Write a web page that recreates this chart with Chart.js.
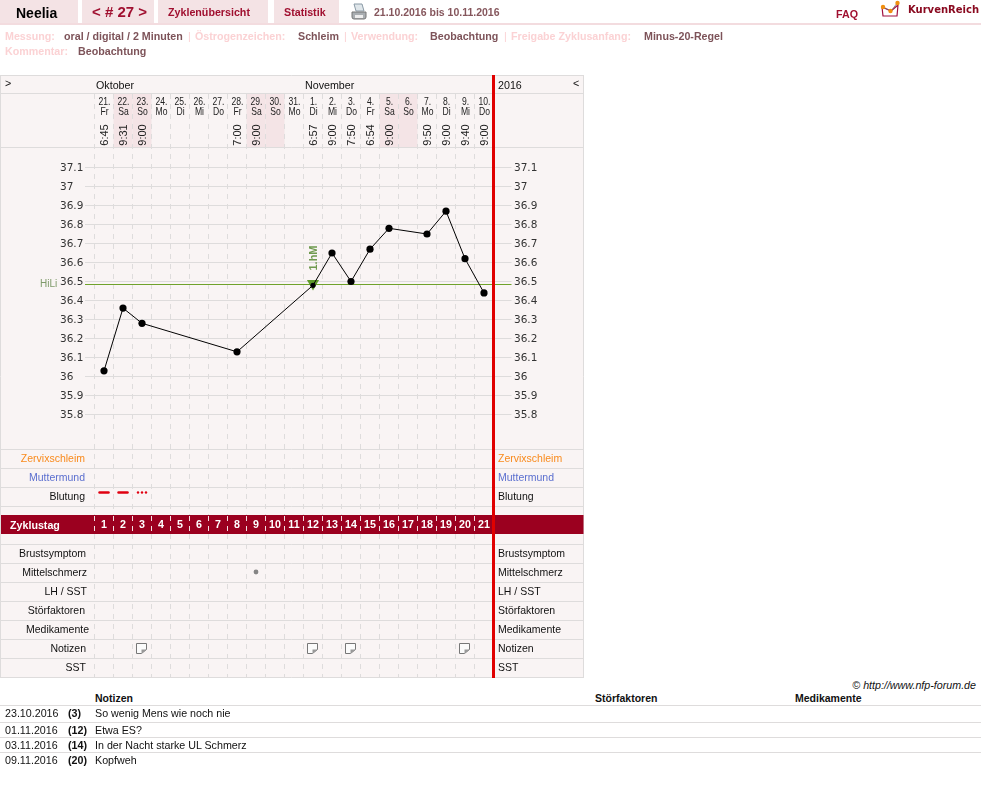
<!DOCTYPE html>
<html lang="de">
<head>
<meta charset="utf-8">
<title>Neelia - Zyklus 27</title>
<script src="https://cdn.jsdelivr.net/npm/chart.js@4"></script>
<style>
  html, body { margin: 0; padding: 0; background: #fff; }
  body { position: relative; width: 981px; height: 797px; overflow: hidden; font-family: "Liberation Sans", Arial, sans-serif; font-size: 10.7px; color: #111; }
  #chart { position: absolute; left: 0; top: 0; }
  .t { position: absolute; white-space: nowrap; line-height: 14px; }
  .r { text-align: right; }
  .b { font-weight: bold; }
  .tab { position: absolute; top: 0; height: 23px; background: #f4e3e5; }
  .hr { position: absolute; left: 0; width: 981px; height: 1px; background: #dedcdc; }
  .dim { color: #fbd2d4; font-weight: bold; }
  .val { color: #7d5359; font-weight: bold; }
  .small { font-size: 10.5px; }
</style>
</head>
<body>
<canvas id="chart" width="584" height="680"></canvas>

<!-- header -->
<div class="tab" style="left:0;width:78px"></div>
<div class="tab" style="left:82px;width:72px"></div>
<div class="tab" style="left:158px;width:110px"></div>
<div class="tab" style="left:274px;width:65px"></div>
<div style="position:absolute;left:0;top:23px;width:981px;height:2px;background:#f3dcdf"></div>
<div class="t b" style="left:16px;top:6px;font-size:14px;color:#000">Neelia</div>
<div class="t b" style="left:92px;top:5px;font-size:15px;color:#a01030">&lt; # 27 &gt;</div>
<div class="t b" style="left:168px;top:5px;color:#a01030">Zyklenübersicht</div>
<div class="t b" style="left:284px;top:5px;color:#a01030">Statistik</div>
<svg style="position:absolute;left:351px;top:3px" width="16" height="18" viewBox="0 0 16 18">
  <path d="M3 1h8l2 7H5z" fill="#dfe6ea" stroke="#8a9aa6"/>
  <path d="M1 9h14v5a2 2 0 0 1-2 2H3a2 2 0 0 1-2-2z" fill="#a9aeb2" stroke="#777"/>
  <rect x="4" y="12" width="8" height="3" fill="#eee"/>
</svg>
<div class="t b small" style="left:374px;top:5px;color:#85565c">21.10.2016 bis 10.11.2016</div>
<div class="t b" style="left:836px;top:7px;color:#a01030">FAQ</div>
<svg style="position:absolute;left:880px;top:0" width="24" height="20" viewBox="0 0 24 20">
  <path d="M2 7l1 9h14l1-11-7 6z" fill="none" stroke="#a01040" stroke-width="1.2"/>
  <path d="M3 7l8 4 7-9" fill="none" stroke="#777" stroke-width="0.8"/>
  <circle cx="3" cy="7" r="2.2" fill="#f09010"/><circle cx="10.5" cy="11" r="2.2" fill="#f09010"/><circle cx="17.5" cy="3" r="2.2" fill="#f09010"/>
</svg>
<div class="t b" style="left:908px;top:3px;font-family:'DejaVu Sans';font-size:10px;color:#8a0a20">KurvenReich</div>

<!-- settings -->
<div class="t dim" style="left:5px;top:29px">Messung:</div>
<div class="t val" style="left:64px;top:29px">oral / digital / 2 Minuten</div>
<div class="t dim" style="left:188px;top:29px;font-weight:normal">|</div>
<div class="t dim" style="left:195px;top:29px">Östrogenzeichen:</div>
<div class="t val" style="left:298px;top:29px">Schleim</div>
<div class="t dim" style="left:344px;top:29px;font-weight:normal">|</div>
<div class="t dim" style="left:351px;top:29px">Verwendung:</div>
<div class="t val" style="left:430px;top:29px">Beobachtung</div>
<div class="t dim" style="left:504px;top:29px;font-weight:normal">|</div>
<div class="t dim" style="left:511px;top:29px">Freigabe Zyklusanfang:</div>
<div class="t val" style="left:644px;top:29px">Minus-20-Regel</div>
<div class="t dim" style="left:5px;top:44px">Kommentar:</div>
<div class="t val" style="left:78px;top:44px">Beobachtung</div>

<!-- chart table text -->
<div class="t" style="left:5px;top:76px">&gt;</div>
<div class="t" style="left:96px;top:78px">Oktober</div>
<div class="t" style="left:305px;top:78px">November</div>
<div class="t" style="left:498px;top:78px">2016</div>
<div class="t" style="left:573px;top:76px">&lt;</div>
<div class="t" style="left:40px;top:277px;font-size:10px;color:#7f9a6a">HiLi</div>
<div id="rowLabels"></div>

<!-- notes -->
<div class="t" style="right:5px;top:678px;font-style:italic">© http://www.nfp-forum.de</div>
<div class="t b small" style="left:95px;top:691px">Notizen</div>
<div class="t b small" style="left:595px;top:691px">Störfaktoren</div>
<div class="t b small" style="left:795px;top:691px">Medikamente</div>
<div class="hr" style="top:705px"></div>
<div class="hr" style="top:722px"></div>
<div class="hr" style="top:737px"></div>
<div class="hr" style="top:752px"></div>
<div id="notes"></div>

<script>
// ================= DATA =================
const dayNumbers = ["21.", "22.", "23.", "24.", "25.", "26.", "27.", "28.", "29.", "30.", "31.", "1.", "2.", "3.", "4.", "5.", "6.", "7.", "8.", "9.", "10."];
const weekdays = ["Fr", "Sa", "So", "Mo", "Di", "Mi", "Do", "Fr", "Sa", "So", "Mo", "Di", "Mi", "Do", "Fr", "Sa", "So", "Mo", "Di", "Mi", "Do"];
const times = ["6:45", "9:31", "9:00", "", "", "", "", "7:00", "9:00", "", "", "6:57", "9:00", "7:50", "6:54", "9:00", "", "9:50", "9:00", "9:40", "9:00"];
const cycleDays = ["1", "2", "3", "4", "5", "6", "7", "8", "9", "10", "11", "12", "13", "14", "15", "16", "17", "18", "19", "20", "21"];
const temps = [36.03, 36.36, 36.28, null, null, null, null, 36.13, null, null, null, 36.48, 36.65, 36.50, 36.67, 36.78, null, 36.75, 36.87, 36.62, 36.44];
const firstHigh = [null, null, null, null, null, null, null, null, null, null, null, 36.49, null, null, null, null, null, null, null, null, null];
const tempTicks = [35.8, 35.9, 36, 36.1, 36.2, 36.3, 36.4, 36.5, 36.6, 36.7, 36.8, 36.9, 37, 37.1];
const hiLi = 36.484;
const bleeding = [2, 2, 1];
const painDays = ["9"];
const noteDays = ["3", "12", "14", "20"];

const rowNames = ["Zervixschleim", "Muttermund", "Blutung", "Brustsymptom", "Mittelschmerz", "LH / SST", "Störfaktoren", "Medikamente", "Notizen", "SST"];
const noteDates = ["23.10.2016", "01.11.2016", "03.11.2016", "09.11.2016"];
const noteCycle = ["(3)", "(12)", "(14)", "(20)"];
const noteTexts = ["So wenig Mens wie noch nie", "Etwa ES?", "In der Nacht starke UL Schmerz", "Kopfweh"];

// ================= LAYOUT =================
const tableRight = 583.5;
const rowLines = [75.5, 93.5, 147.5, 449.5, 468.5, 487.5, 506.5, 544.5, 563.5, 582.5, 601.5, 620.5, 639.5, 658.5, 677.5];
const labelCentres = [458, 477, 496, 553, 572, 591, 610, 629, 648, 667];
const labelRightEdge = [85, 85, 85, 86, 87, 87, 85, 89, 86, 86];
const labelColors = { "Zervixschleim": "#f98a1c", "Muttermund": "#5b6fcf" };

const rowBox = document.getElementById("rowLabels");
rowNames.forEach((name, i) => {
  const color = labelColors[name] || "#111";
  rowBox.innerHTML +=
    `<div class="t r small" style="right:${981 - labelRightEdge[i]}px;top:${labelCentres[i] - 7}px;color:${color}">${name}</div>` +
    `<div class="t small" style="left:498px;top:${labelCentres[i] - 7}px;color:${color}">${name}</div>`;
});
rowBox.innerHTML += `<div class="t b" style="left:10px;top:518px;color:#fff">Zyklustag</div>`;

const noteRowY = [713, 730, 745, 760];
const notesBox = document.getElementById("notes");
noteTexts.forEach((text, i) => {
  const top = noteRowY[i] - 7;
  notesBox.innerHTML +=
    `<div class="t" style="left:5px;top:${top}px">${noteDates[i]}</div>` +
    `<div class="t b" style="left:68px;top:${top}px">${noteCycle[i]}</div>` +
    `<div class="t" style="left:95px;top:${top}px">${text}</div>`;
});

// ================= TABLE AROUND THE PLOT =================
const tablePlugin = {
  id: "cycleTable",
  beforeDraw(chart) {
    const { ctx, scales: { x } } = chart;
    const half = (x.getPixelForValue(1) - x.getPixelForValue(0)) / 2;
    ctx.save();
    ctx.fillStyle = "#f9f4f4";
    ctx.fillRect(0.5, 75.5, tableRight, 602);

    // weekend columns
    ctx.fillStyle = "#f4e4e6";
    weekdays.forEach((d, i) => {
      if (d === "Sa" || d === "So") ctx.fillRect(x.getPixelForValue(i) - half, 94, half * 2, 53.5);
    });

    ctx.strokeStyle = "#dedcdc";
    ctx.lineWidth = 1;
    rowLines.forEach(y => {
      ctx.beginPath(); ctx.moveTo(0, y); ctx.lineTo(tableRight, y); ctx.stroke();
    });
    ctx.beginPath(); ctx.moveTo(0.5, 75); ctx.lineTo(0.5, 678);
    ctx.moveTo(tableRight, 75); ctx.lineTo(tableRight, 678); ctx.stroke();

    ctx.fillStyle = "#9b001f";
    ctx.fillRect(1, 515, tableRight - 1, 19);
    ctx.restore();
  },
  beforeDatasetsDraw(chart) {
    const { ctx, chartArea, scales: { x, y } } = chart;
    const half = (x.getPixelForValue(1) - x.getPixelForValue(0)) / 2;
    ctx.save();

    // dashed day separators
    ctx.lineWidth = 1;
    ctx.setLineDash([5, 5]);
    cycleDays.forEach((d, i) => {
      const px = x.getPixelForValue(i) - half;
      ctx.strokeStyle = "#dedcdc";
      ctx.beginPath(); ctx.moveTo(px, 94); ctx.lineTo(px, 515); ctx.moveTo(px, 534); ctx.lineTo(px, 677); ctx.stroke();
      ctx.strokeStyle = "#f3dfe2";
      ctx.beginPath(); ctx.moveTo(px, 516); ctx.lineTo(px, 534); ctx.stroke();
    });
    ctx.setLineDash([]);

    // high level line
    const hy = Math.round(y.getPixelForValue(hiLi) - 0.5) + 0.5;
    ctx.strokeStyle = "#6fa22a";
    ctx.beginPath(); ctx.moveTo(chartArea.left - 9.5, hy); ctx.lineTo(chartArea.right + 18, hy); ctx.stroke();

    // date header, times, cycle day numbers
    ctx.fillStyle = "#222";
    ctx.textAlign = "center";
    ctx.textBaseline = "middle";
    dayNumbers.forEach((d, i) => {
      const c = x.getPixelForValue(i);
      ctx.font = '11px "Liberation Sans"';
      ctx.fillStyle = "#222";
      // the date labels are squeezed sideways to fit the 19px columns
      ctx.save();
      ctx.translate(c + 0.5, 0);
      ctx.scale(0.78, 1);
      ctx.fillText(d, 0, 102);
      ctx.fillText(weekdays[i], 0, 112);
      ctx.restore();
      if (times[i]) {
        ctx.save();
        ctx.translate(c + 1, 135);
        ctx.rotate(-Math.PI / 2);
        ctx.fillText(times[i], 0, 0);
        ctx.restore();
      }
      ctx.font = 'bold 10.7px "Liberation Sans"';
      ctx.fillStyle = "#fff";
      ctx.fillText(cycleDays[i], c, 525.5);
    });

    // bleeding row
    ctx.strokeStyle = ctx.fillStyle = "#e00010";
    bleeding.forEach((level, i) => {
      const c = x.getPixelForValue(i);
      if (level === 2) {
        ctx.lineWidth = 2.5;
        ctx.lineCap = "round";
        ctx.beginPath(); ctx.moveTo(c - 4.5, 492.5); ctx.lineTo(c + 4.5, 492.5); ctx.stroke();
      } else {
        [-4, 0, 4].forEach(d => {
          ctx.beginPath(); ctx.arc(c + d, 492.5, 1.2, 0, Math.PI * 2); ctx.fill();
        });
      }
    });

    // mittelschmerz dot
    ctx.fillStyle = "#858585";
    painDays.forEach(d => {
      ctx.beginPath(); ctx.arc(x.getPixelForValue(cycleDays.indexOf(d)), 572, 2.4, 0, Math.PI * 2); ctx.fill();
    });

    // note icons
    ctx.lineWidth = 1;
    ctx.lineCap = "butt";
    ctx.strokeStyle = "#777";
    ctx.fillStyle = "#fbfbfb";
    noteDays.forEach(d => {
      const l = Math.round(x.getPixelForValue(cycleDays.indexOf(d))) - 5.5;
      const t = 643.5;
      ctx.beginPath();
      ctx.moveTo(l, t); ctx.lineTo(l + 10, t); ctx.lineTo(l + 10, t + 6); ctx.lineTo(l + 5, t + 10); ctx.lineTo(l, t + 10); ctx.closePath();
      ctx.fill(); ctx.stroke();
      ctx.fillStyle = "#999";
      ctx.beginPath(); ctx.moveTo(l + 10, t + 6); ctx.lineTo(l + 5, t + 6); ctx.lineTo(l + 5, t + 10); ctx.closePath(); ctx.fill();
      ctx.fillStyle = "#fbfbfb";
    });

    // first high measurement label
    const idx = firstHigh.findIndex(v => v !== null);
    ctx.save();
    ctx.translate(x.getPixelForValue(idx) + 1, 258);
    ctx.rotate(-Math.PI / 2);
    ctx.font = 'bold 11px "Liberation Sans"';
    ctx.fillStyle = "#6f9a4f";
    ctx.fillText("1.hM", 0, 0);
    ctx.restore();

    ctx.restore();
  },
  afterDraw(chart) {
    const { ctx, chartArea } = chart;
    ctx.fillStyle = "#e00000";
    ctx.fillRect(chartArea.right - 1.5, 75, 3, 603);
  }
};

// ================= CHART =================
const useTempTicks = scale => { scale.ticks = tempTicks.map(v => ({ value: v })); };
// two line label + 2px line height pushes the number 1px down, like the reference
const tickFont = { family: '"DejaVu Sans"', size: 10.5, lineHeight: "2px" };
const tickLabel = v => ["", String(v)];
const highIndex = firstHigh.findIndex(v => v !== null);

new Chart(document.getElementById("chart"), {
  type: "line",
  data: {
    labels: cycleDays,
    datasets: [
      {
        data: temps,
        spanGaps: true,
        borderColor: "#000",
        borderWidth: 1,
        backgroundColor: "#000",
        pointBackgroundColor: "#000",
        pointBorderWidth: 0,
        pointRadius: c => (c.dataIndex === highIndex ? 2.6 : 3.6),
        tension: 0,
        order: 1
      },
      {
        data: firstHigh,
        showLine: false,
        pointStyle: "triangle",
        rotation: 180,
        pointRadius: 7,
        pointBorderWidth: 0,
        pointBackgroundColor: "#5f9a2a",
        order: 2
      }
    ]
  },
  options: {
    responsive: false,
    animation: false,
    layout: { padding: { left: 60, right: 30.5, top: 148.5, bottom: 227.5 } },
    plugins: { legend: { display: false }, tooltip: { enabled: false } },
    scales: {
      x: { display: false, offset: true },
      y: {
        position: "left",
        min: 35.6,
        max: 37.2,
        afterBuildTicks: useTempTicks,
        afterFit: scale => { scale.width = 34.5; },
        border: { display: false },
        grid: { color: "#dedcdc", tickLength: 9.5 },
        ticks: { crossAlign: "far", autoSkip: false, font: tickFont, color: "#333", callback: tickLabel }
      },
      y2: {
        position: "right",
        min: 35.6,
        max: 37.2,
        afterBuildTicks: useTempTicks,
        afterFit: scale => { scale.width = 60; },
        border: { display: false },
        grid: { drawOnChartArea: false, color: "#dedcdc", tickLength: 18 },
        ticks: { padding: 2.5, autoSkip: false, font: tickFont, color: "#333", callback: tickLabel }
      }
    }
  },
  plugins: [tablePlugin]
});
</script>
</body>
</html>
